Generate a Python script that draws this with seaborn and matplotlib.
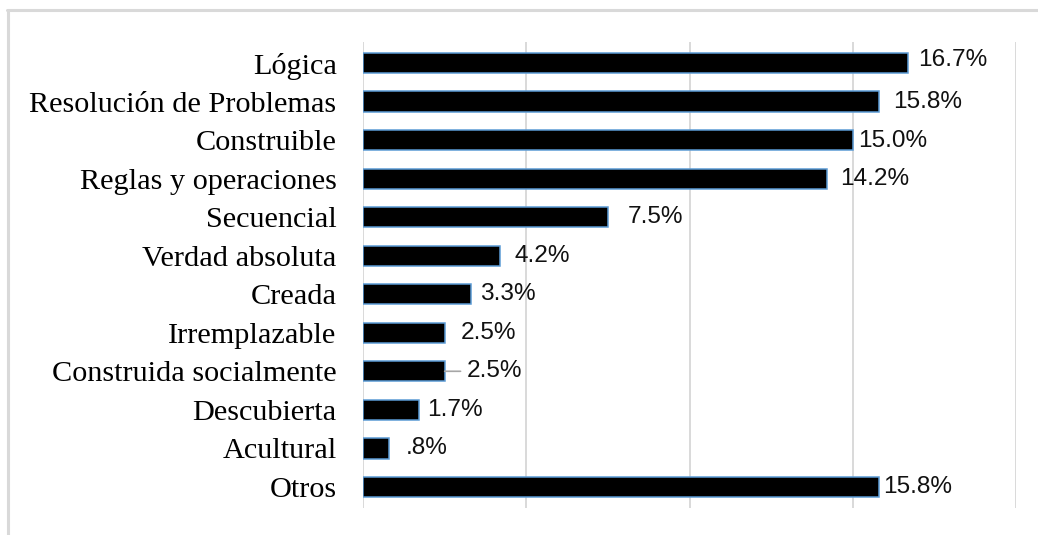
"""
Concepciones de la matemática - barras horizontales
"""

import numpy as np
import pandas as pd
import matplotlib
matplotlib.use("Agg")
import matplotlib.pyplot as plt
from matplotlib.lines import Line2D
import seaborn as sns

# ─── DATA ───────────────────────────────────────────────
categorias = [
    "Lógica",
    "Resolución de Problemas",
    "Construible",
    "Reglas y operaciones",
    "Secuencial",
    "Verdad absoluta",
    "Creada",
    "Irremplazable",
    "Construida socialmente",
    "Descubierta",
    "Acultural",
    "Otros",
]
porcentajes = [16.7, 15.8, 15.0, 14.2, 7.5, 4.2, 3.3, 2.5, 2.5, 1.7, 0.8, 15.8]
etiquetas = ["16.7%", "15.8%", "15.0%", "14.2%", "7.5%", "4.2%",
             "3.3%", "2.5%", "2.5%", "1.7%", ".8%", "15.8%"]

# ─── STYLE ──────────────────────────────────────────────
# horizontal gap (px) between bar end and its label, as placed in the original
label_dx = [10, 14, 5, 13, 20, 14, 9, 16, 22, 9, 17, 4]
label_dy = [3, 0, -1, 0, 0, 0, 0, 0, 0, 0, 0, 0]
leader = [False] * 8 + [True] + [False] * 3

GRID = "#d9d9d9"
EDGE = "#5b9bd5"

sns.set_theme(style="white")
plt.rcParams["font.family"] = ["Liberation Serif", "DejaVu Serif"]

df = pd.DataFrame({"categoria": categorias, "valor": porcentajes})

W, H = 1038, 535
fig = plt.figure(figsize=(W / 100, H / 100), dpi=100)
fig.patch.set_facecolor("white")

x0, x1, y0, y1 = 363, 1016, 42, 508
ax = fig.add_axes([x0 / W, 1 - y1 / H, (x1 - x0) / W, (y1 - y0) / H])

sns.barplot(data=df, x="valor", y="categoria", orient="h", color="black",
            saturation=1, edgecolor=EDGE, linewidth=1.1, width=0.53, ax=ax)

ax.set_xlim(0, 20)
ax.set_ylim(len(categorias) - 0.45, -0.55)
ax.set_xticks(np.arange(0, 21, 5))
ax.xaxis.grid(True, color=GRID, linewidth=1.4)
ax.set_axisbelow(True)
ax.tick_params(axis="x", length=0, labelbottom=False)
ax.tick_params(axis="y", length=0, pad=19, labelsize=21.8, labelcolor="black")
ax.set_xlabel("")
ax.set_ylabel("")
for s in ax.spines.values():
    s.set_visible(False)

# ─── VALUE LABELS ───────────────────────────────────────
for i, (v, txt) in enumerate(zip(porcentajes, etiquetas)):
    kw = dict(xy=(v, i), xytext=(label_dx[i], label_dy[i]),
              textcoords="offset pixels", ha="left", va="center",
              fontsize=17.6, color="#111111",
              family=["Liberation Sans", "DejaVu Sans"])
    if leader[i]:
        kw["arrowprops"] = dict(arrowstyle="-", color="#a6a6a6", lw=1.2,
                                shrinkA=2, shrinkB=0)
    ax.annotate(txt, **kw)

# ─── OUTER FRAME (top/left visible in crop) ─────────────
fig.add_artist(Line2D([7 / W, 1], [1 - 9.5 / H, 1 - 9.5 / H],
                      color=GRID, linewidth=2.2, transform=fig.transFigure))
fig.add_artist(Line2D([7.5 / W, 7.5 / W], [0, 1 - 9.5 / H],
                      color=GRID, linewidth=2.2, transform=fig.transFigure))

fig.savefig("out.png", dpi=100, facecolor="white")
